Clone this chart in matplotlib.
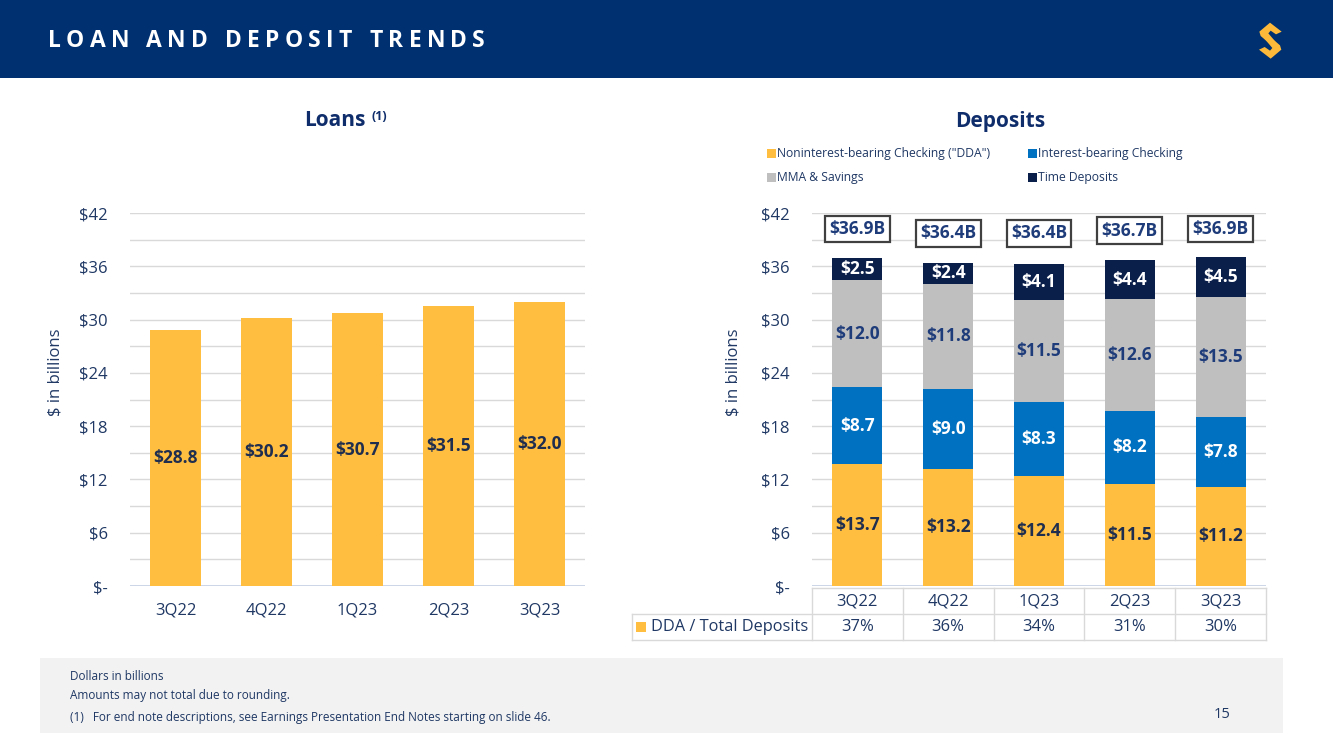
import matplotlib
matplotlib.use("Agg")
import matplotlib.pyplot as plt
from matplotlib.patches import Rectangle, Polygon
from matplotlib.transforms import blended_transform_factory
import numpy as np

plt.rcParams['font.family'] = ['Open Sans', 'DejaVu Sans']

# ---------------- data ----------------
quarters = ["3Q22", "4Q22", "1Q23", "2Q23", "3Q23"]
loans = [28.8, 30.2, 30.7, 31.5, 32.0]
dda = [13.7, 13.2, 12.4, 11.5, 11.2]
ib_checking = [8.7, 9.0, 8.3, 8.2, 7.8]
mma_savings = [12.0, 11.8, 11.5, 12.6, 13.5]
time_dep = [2.5, 2.4, 4.1, 4.4, 4.5]
total_labels = ["$36.9B", "$36.4B", "$36.4B", "$36.7B", "$36.9B"]
totals = [36.9, 36.4, 36.4, 36.7, 36.9]
dda_pct = ["37%", "36%", "34%", "31%", "30%"]
series_names = ['Noninterest-bearing Checking ("DDA")', "Interest-bearing Checking",
                "MMA & Savings", "Time Deposits"]
yticks = [0, 6, 12, 18, 24, 30, 36, 42]
ytick_labels = ["$-", "$6", "$12", "$18", "$24", "$30", "$36", "$42"]
footnotes = ["Dollars in billions", "Amounts may not total due to rounding.",
             "(1)   For end note descriptions, see Earnings Presentation End Notes starting on slide 46."]

# ---------------- styles ----------------
NAVY_HDR = "#003070"
YELLOW = "#FFBE3F"
BLUE = "#0070C0"
GRAY = "#BFBFBF"
DARK = "#0B1F4B"
TXT = "#1F3864"
LBL_DARK = "#1F2D4F"
LBL_NAVY = "#1F3C7A"
GRID = "#D9D9D9"
FS = 12
FS_VAL = 12.5

W, H = 1333, 749
fig = plt.figure(figsize=(W / 100, H / 100), dpi=100)
fig.patch.set_facecolor("white")

# overlay in pixel coordinates
ov = fig.add_axes([0, 0, 1, 1], zorder=0)
ov.set_xlim(0, W)
ov.set_ylim(H, 0)
ov.axis("off")
renderer = fig.canvas.get_renderer()

def text_width(s, fs, **kw):
    t = ov.text(0, 0, s, fontsize=fs, **kw)
    w = t.get_window_extent(renderer=renderer).width
    t.remove()
    return w

# header band
ov.add_patch(Rectangle((0, 0), W, 78, color=NAVY_HDR, lw=0))

# letter-spaced title
title = "LOAN AND DEPOSIT TRENDS"
fs_title = 16.5
widths = [text_width(ch if ch != " " else "n", fs_title, fontweight="bold") * (0.45 if ch == " " else 1.0)
          for ch in title]
target = 437.0
gap = (target - sum(widths)) / (len(title) - 1)
x = 48.0
for ch, w in zip(title, widths):
    if ch != " ":
        ov.text(x, 41, ch, fontsize=fs_title, fontweight="bold", color="white",
                ha="left", va="center")
    x += w + gap

# logo
up = [(178, 95), (210, 68), (245, 95), (228, 103), (212, 92), (205, 100), (232, 132), (222, 142), (182, 108)]
lo = [(422 - a, 244 - b) for a, b in up]
for poly in (up, lo):
    ov.add_patch(Polygon([(1200 + a / 3, b / 3) for a, b in poly], closed=True,
                         color="#FDB93A", lw=0))

# footer
ov.add_patch(Rectangle((40, 658), 1243, 75, color="#F2F2F2", lw=0))
for yy, s in zip([677, 696, 718], footnotes):
    ov.text(70, yy, s, fontsize=8.5, color=TXT, va="center", ha="left")
ov.text(1222, 714, "15", fontsize=10.5, color=TXT, va="center", ha="center")

# chart titles
ov.text(366, 121, "Loans", fontsize=15, fontweight="bold", color="#0F2D6B",
        ha="right", va="center")
ov.text(371, 117, "(1)", fontsize=9, fontweight="bold", color="#0F2D6B",
        ha="left", va="center")
ov.text(1000, 121, "Deposits", fontsize=15, fontweight="bold", color="#0F2D6B",
        ha="center", va="center")

# legend (font size fitted so the first entry spans ~213 px)
colors = [YELLOW, BLUE, GRAY, DARK]
fs_leg = 10 * 213.0 / text_width(series_names[0], 10)
leg_pos = [(771, 153), (1032, 153), (771, 177), (1032, 177)]
for (lx, ly), c, name in zip(leg_pos, colors, series_names):
    ov.add_patch(Rectangle((lx - 4.5, ly - 4.5), 9, 9, color=c, lw=0))
    ov.text(lx + 6, ly, name, fontsize=fs_leg, color=TXT, ha="left", va="center")

# ---------------- axes helpers ----------------
def px_axes(left, right, top, bottom):
    return fig.add_axes([left / W, (H - bottom) / H, (right - left) / W, (bottom - top) / H],
                        zorder=2)

def style_axes(ax, label_x):
    ax.set_facecolor("none")
    ax.set_xlim(-0.5, 4.5)
    ax.set_ylim(0, 42)
    for s in ax.spines.values():
        s.set_visible(False)
    ax.set_yticks(yticks)
    ax.set_yticklabels(ytick_labels, fontsize=FS, color=TXT)
    ax.set_yticks(np.arange(3, 42, 6), minor=True)
    ax.tick_params(axis="y", which="both", length=0, pad=16)
    ax.grid(axis="y", which="both", color=GRID, lw=1)
    ax.set_axisbelow(True)
    ax.axhline(0, color="#C5D0E4", lw=1.2, zorder=1)
    ax.set_ylabel("$ in billions", fontsize=FS, color=TXT)
    ax.yaxis.set_label_coords(label_x, 0.574)

x = np.arange(len(quarters))

# Loans
ax1 = px_axes(130, 585, 213, 586)
style_axes(ax1, -0.147)
ax1.bar(x, loans, width=0.57, color=YELLOW, zorder=2)
for xi, v in zip(x, loans):
    ax1.text(xi, v / 2, f"${v:.1f}", ha="center", va="center", fontsize=FS_VAL,
             fontweight="bold", color=LBL_DARK, zorder=3)
ax1.set_xticks(x)
ax1.set_xticklabels(quarters, fontsize=FS, color=TXT)
ax1.tick_params(axis="x", length=0, pad=12)

# Deposits
ax2 = px_axes(812, 1266, 213, 586)
style_axes(ax2, -0.156)
bw = 0.55
stack = [dda, ib_checking, mma_savings, time_dep]
label_colors = [LBL_DARK, "white", LBL_NAVY, "white"]
bottom = np.zeros(len(quarters))
for vals, c, lc in zip(stack, colors, label_colors):
    vals = np.array(vals)
    ax2.bar(x, vals, width=bw, bottom=bottom, color=c, zorder=2)
    for xi, b, v in zip(x, bottom, vals):
        ax2.text(xi, b + v / 2, f"${v:.1f}", ha="center", va="center", fontsize=FS_VAL,
                 fontweight="bold", color=lc, zorder=3)
    bottom = bottom + vals
for xi, t, lab in zip(x, totals, total_labels):
    ax2.text(xi, t + 3.3, lab, ha="center", va="center", fontsize=12.5, fontweight="bold",
             color=LBL_NAVY, zorder=4, clip_on=False,
             bbox=dict(boxstyle="square,pad=0.25", fc="white", ec="#404040", lw=1.6))
ax2.set_xticks([])

# table under deposits
tr = blended_transform_factory(ax2.transData, ov.transData)
tc = "#D9D9D9"
ov.plot([812, 1266], [588, 588], color=tc, lw=1, zorder=3)
ov.plot([632, 1266], [614, 614], color=tc, lw=1, zorder=3)
ov.plot([632, 1266], [640, 640], color=tc, lw=1, zorder=3)
ov.plot([632, 632], [614, 640], color=tc, lw=1, zorder=3)
for i in range(len(quarters) + 1):
    ov.plot([i - 0.5, i - 0.5], [588, 640], color=tc, lw=1, transform=tr, zorder=3)
for xi, q, p in zip(x, quarters, dda_pct):
    ov.text(xi, 601, q, transform=tr, ha="center", va="center", fontsize=FS, color=TXT)
    ov.text(xi, 627, p, transform=tr, ha="center", va="center", fontsize=FS, color=TXT)
ov.add_patch(Rectangle((636, 622), 10, 10, color=YELLOW, lw=0))
ov.text(651, 627, "DDA / Total Deposits", ha="left", va="center", fontsize=11.8, color=TXT)

fig.savefig("out.png", dpi=100)
